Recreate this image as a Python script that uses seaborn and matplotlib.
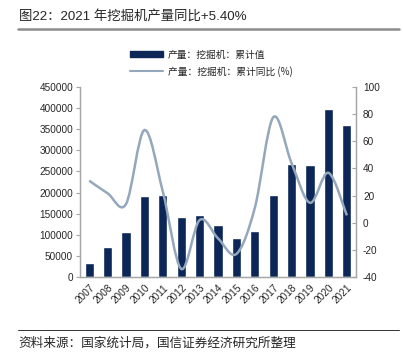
import numpy as np
import pandas as pd
import matplotlib
matplotlib.use("Agg")
import matplotlib.pyplot as plt
from matplotlib.path import Path
from matplotlib.patches import PathPatch
from matplotlib.lines import Line2D
from matplotlib.patches import Patch
import seaborn as sns

# data
years = ['2007', '2008', '2009', '2010', '2011', '2012', '2013', '2014',
         '2015', '2016', '2017', '2018', '2019', '2020', '2021']
output_cum = [33500, 70000, 107000, 192000, 194000, 141000, 148000, 123500,
              92000, 110000, 193500, 267500, 265500, 399000, 360500]
yoy_cum = [31, 21.7, 13.8, 68.3, 23, -34, 2, -11.5, -23, 11, 77.7, 43.8, 14.7, 36.8, 5.4]

left_ticks = [0, 50000, 100000, 150000, 200000, 250000, 300000, 350000, 400000, 450000]
right_ticks = [-40, -20, 0, 20, 40, 60, 80, 100]

bar_color = '#0b2657'
line_color = '#94a7bb'
axis_color = '#a6a6a6'

sns.set_style('white')
plt.rcParams['font.family'] = ['Liberation Sans', 'Noto Sans CJK SC', 'DejaVu Sans']

df = pd.DataFrame({'year': years, 'output': output_cum, 'yoy': yoy_cum})

fig = plt.figure(figsize=(4.03, 3.57), dpi=100)
ax = fig.add_axes([0.1985, 0.2241, 0.685, 0.532])

sns.barplot(data=df, x='year', y='output', color=bar_color, width=0.5,
            saturation=1, ax=ax)
ax.set_xlim(-0.5, len(years) - 0.5)
ax.set_ylim(0, 450000)
ax.set_yticks(left_ticks)
ax.set_yticklabels([str(t) for t in left_ticks], fontsize=7.2)
ax.set_xlabel('')
ax.set_ylabel('')
ax.set_xticks(range(len(years)))
ax.set_xticklabels(years, rotation=45, ha='right', rotation_mode='anchor', fontsize=7.2)
ax.set_xticks(np.arange(-0.5, len(years), 1), minor=True)
ax.tick_params(axis='x', which='major', length=0, pad=4)
ax.tick_params(axis='x', which='minor', direction='in', length=3, color=axis_color, width=0.8)
ax.tick_params(axis='y', direction='out', length=3, color=axis_color, width=0.8, pad=2)

ax2 = ax.twinx()
ax2.set_ylim(-40, 100)
ax2.set_yticks(right_ticks)
ax2.set_yticklabels([str(t) for t in right_ticks], fontsize=7.2)
ax2.tick_params(axis='y', direction='in', length=3, color=axis_color, width=0.8, pad=5)

# smooth line through the yoy points (Catmull-Rom as bezier segments)
pts = np.column_stack([np.arange(len(years)), df['yoy'].values])
ext = np.vstack([pts[0], pts, pts[-1]])
verts = [tuple(pts[0])]
codes = [Path.MOVETO]
for i in range(len(pts) - 1):
    p0, p1, p2, p3 = ext[i], ext[i + 1], ext[i + 2], ext[i + 3]
    c1 = p1 + (p2 - p0) / 6
    c2 = p2 - (p3 - p1) / 6
    verts += [tuple(c1), tuple(c2), tuple(p2)]
    codes += [Path.CURVE4] * 3
ax2.add_patch(PathPatch(Path(verts, codes), facecolor='none', edgecolor=line_color, lw=1.8))

for a in (ax, ax2):
    a.spines['top'].set_visible(False)
    for s in ('left', 'right', 'bottom'):
        a.spines[s].set_color(axis_color)
        a.spines[s].set_linewidth(0.9)
    a.grid(False)

handles = [Patch(facecolor=bar_color, edgecolor=bar_color),
           Line2D([0], [0], color=line_color, lw=1.5)]
labels = ['产量：挖掘机：累计值', '产量：挖掘机：累计同比 (%)']
fig.legend(handles, labels, loc='upper left', bbox_to_anchor=(0.31, 0.875), frameon=False,
           handlelength=3.4, handleheight=0.7, labelspacing=0.65, handletextpad=0.5,
           borderpad=0, prop={'family': ['Noto Sans CJK SC'], 'size': 7})

# title, rules and source note
fig.text(0.048, 0.955, '图22：2021 年挖掘机产量同比+5.40%', fontsize=9.6, va='center', ha='left')
fig.add_artist(Line2D([0.045, 0.99], [0.918, 0.918], color='#8c8c8c', lw=1.8))
fig.add_artist(Line2D([0.045, 0.99], [0.075, 0.075], color='#333333', lw=0.7))
fig.text(0.045, 0.037, '资料来源：国家统计局，国信证券经济研究所整理', fontsize=9.1, va='center', ha='left')

fig.savefig('out.png', dpi=100)
